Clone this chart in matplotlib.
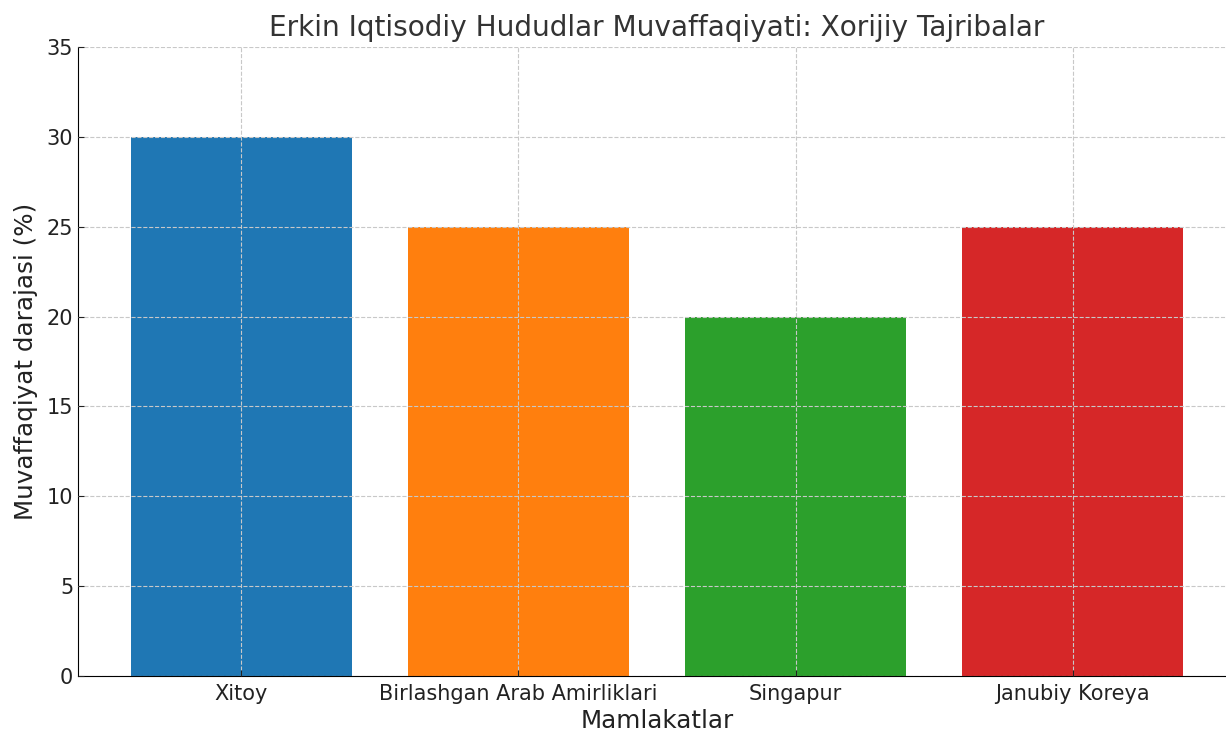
import matplotlib
matplotlib.use("Agg")
import matplotlib.pyplot as plt

countries = ["Xitoy", "Birlashgan Arab Amirliklari", "Singapur", "Janubiy Koreya"]
values = [30, 25, 20, 25]
colors = ["#1f77b4", "#ff7f0e", "#2ca02c", "#d62728"]

W, H = 1226, 731
fig = plt.figure(figsize=(W / 100, H / 100), dpi=100)
ax = fig.add_axes([78 / W, 1 - 676 / H, (1236 - 78) / W, (676 - 47) / H])

ax.bar(countries, values, color=colors, width=0.8)
ax.set_ylim(0, 35)
ax.set_yticks(range(0, 36, 5))
ax.grid(True, linestyle="--", color="#c8c8c8", linewidth=0.8)
ax.set_axisbelow(False)
for s in ["top", "right"]:
    ax.spines[s].set_visible(False)
ax.tick_params(direction="in", labelsize=15, colors="#222222", length=4)
ax.tick_params(axis="x", pad=6)
ax.set_xlabel("Mamlakatlar", fontsize=17.7, color="#222222", labelpad=3)
ax.set_ylabel("Muvaffaqiyat darajasi (%)", fontsize=17.7, color="#222222", labelpad=6)
ax.set_title("Erkin Iqtisodiy Hududlar Muvaffaqiyati: Xorijiy Tajribalar",
             fontsize=20.2, color="#333333", pad=8, x=(657 - 78) / (1236 - 78))

fig.savefig("out.png", dpi=100)
